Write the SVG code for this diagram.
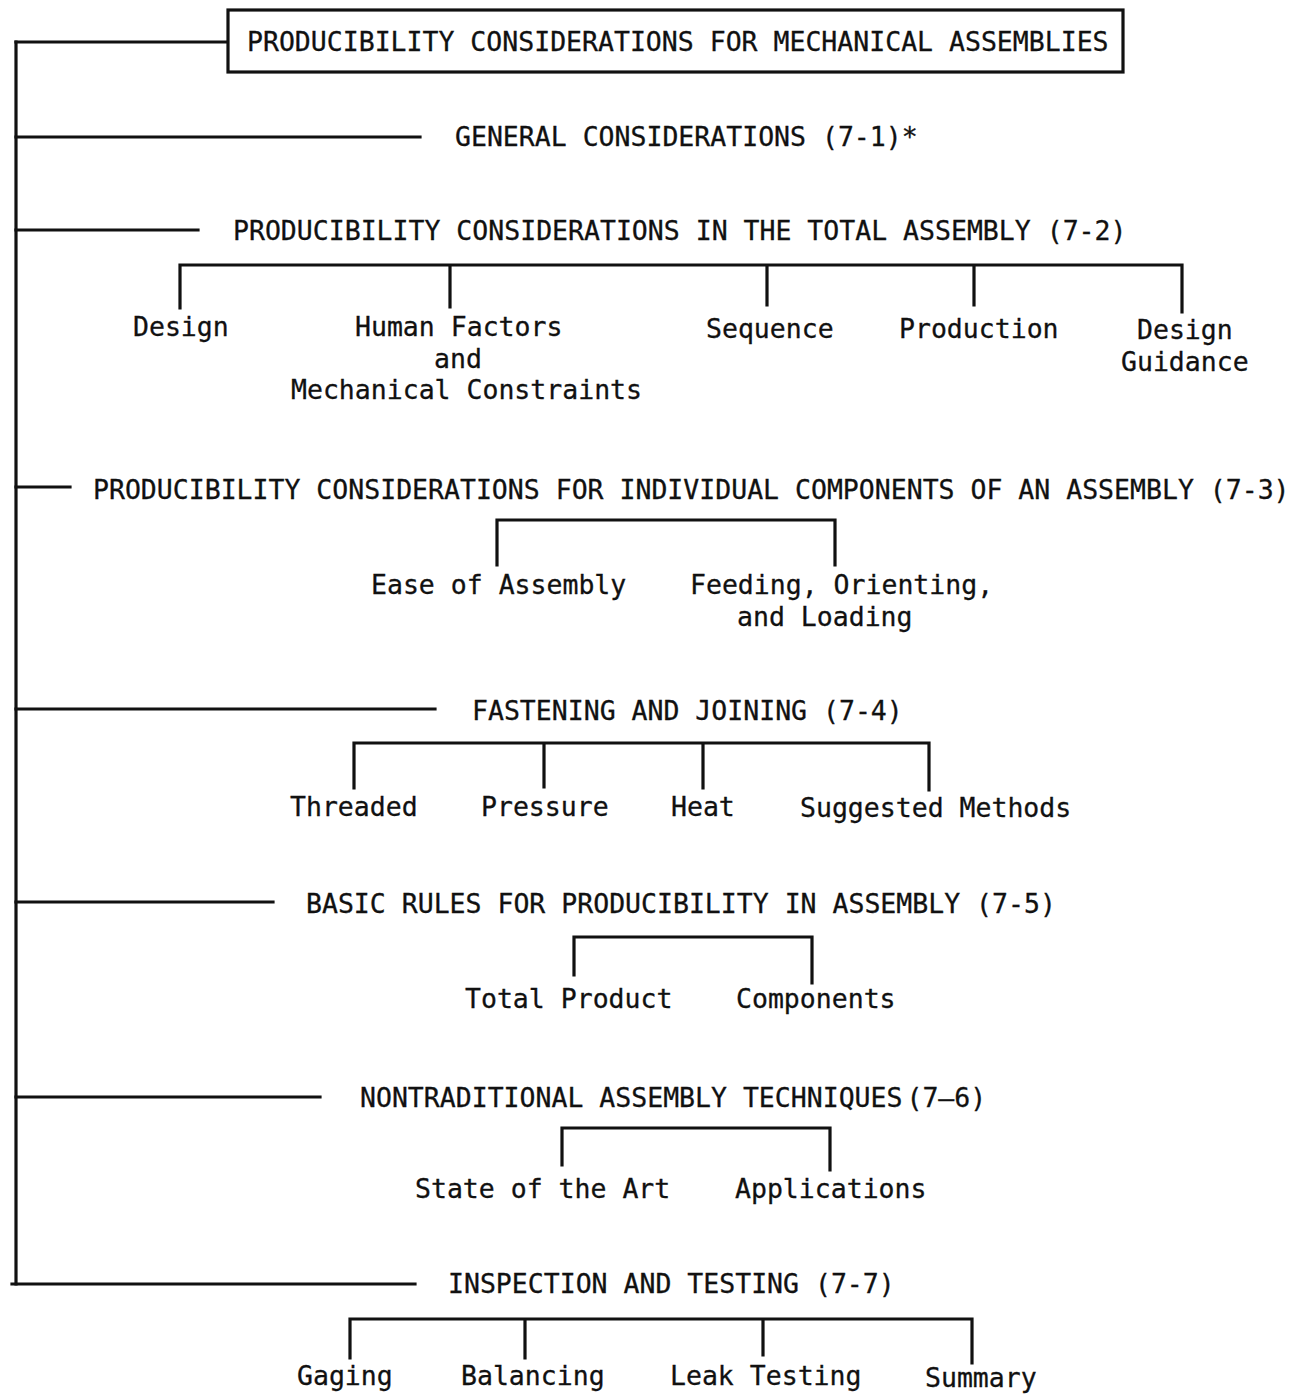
<svg xmlns="http://www.w3.org/2000/svg" width="1299" height="1396" viewBox="0 0 1299 1396">
  <style>
    text { font-family: "DejaVu Sans Mono", "Liberation Mono", monospace; font-size: 26.5px; fill: #111; stroke: #111; stroke-width: 0.3; }
    .ln { stroke: #111; stroke-width: 3.2; fill: none; stroke-linecap: square; }
    .box { stroke: #111; stroke-width: 3.2; fill: #fff; }
  </style>
  <rect width="1299" height="1396" fill="#fff"/>

  <!-- connectors: main spine, branch lines and sub-brackets -->
  <g id="connectors" class="ln">
    <path d="M16 42 V1284"/>
    <path d="M16 42 H228"/>
    <path d="M16 137 H420"/>
    <path d="M16 230 H198"/>
    <path d="M16 487 H70"/>
    <path d="M16 709 H435"/>
    <path d="M16 902 H273"/>
    <path d="M16 1097 H320"/>
    <path d="M12 1284 H415"/>
    <!-- 7-2 bracket -->
    <path d="M180 308 V265 H1182 V312 M450 265 V307 M767 265 V305 M974 265 V305"/>
    <!-- 7-3 bracket -->
    <path d="M497 565 V520 H835 V565"/>
    <!-- 7-4 bracket -->
    <path d="M354 788 V743 H929 V790 M544 743 V787 M703 743 V788"/>
    <!-- 7-5 bracket -->
    <path d="M574 975 V937 H812 V983"/>
    <!-- 7-6 bracket -->
    <path d="M562 1165 V1128 H830 V1170"/>
    <!-- 7-7 bracket -->
    <path d="M350 1358 V1319 H972 V1363 M525 1319 V1358 M763 1319 V1355"/>
  </g>

  <g id="root">
    <rect class="box" x="228" y="10" width="895" height="62"/>
    <text x="247" y="51">PRODUCIBILITY CONSIDERATIONS FOR MECHANICAL ASSEMBLIES</text>
  </g>

  <g id="general">
    <text x="455" y="146">GENERAL CONSIDERATIONS (7-1)*</text>
  </g>

  <g id="total-assembly">
    <text x="233" y="240">PRODUCIBILITY CONSIDERATIONS IN THE TOTAL ASSEMBLY (7-2)</text>
  </g>
  <g id="ta-design"><text x="133" y="336">Design</text></g>
  <g id="ta-human">
    <text x="355" y="336">Human Factors</text>
    <text x="434" y="368">and</text>
    <text x="291" y="399">Mechanical Constraints</text>
  </g>
  <g id="ta-sequence"><text x="706" y="338">Sequence</text></g>
  <g id="ta-production"><text x="899" y="338">Production</text></g>
  <g id="ta-guidance">
    <text x="1137" y="339">Design</text>
    <text x="1121" y="371">Guidance</text>
  </g>

  <g id="components">
    <text x="93" y="499">PRODUCIBILITY CONSIDERATIONS FOR INDIVIDUAL COMPONENTS OF AN ASSEMBLY (7-3)</text>
  </g>
  <g id="c-ease"><text x="371" y="594">Ease of Assembly</text></g>
  <g id="c-feeding">
    <text x="690" y="594">Feeding, Orienting,</text>
    <text x="737" y="626">and Loading</text>
  </g>

  <g id="fastening">
    <text x="472" y="720">FASTENING AND JOINING (7-4)</text>
  </g>
  <g id="f-threaded"><text x="290" y="816">Threaded</text></g>
  <g id="f-pressure"><text x="481" y="816">Pressure</text></g>
  <g id="f-heat"><text x="671" y="816">Heat</text></g>
  <g id="f-suggested"><text x="800" y="817">Suggested Methods</text></g>

  <g id="basic-rules">
    <text x="306" y="913">BASIC RULES FOR PRODUCIBILITY IN ASSEMBLY (7-5)</text>
  </g>
  <g id="b-total"><text x="465" y="1008">Total Product</text></g>
  <g id="b-components"><text x="736" y="1008">Components</text></g>

  <g id="nontraditional">
    <text x="360" y="1107">NONTRADITIONAL ASSEMBLY TECHNIQUES<tspan dx="4">(7–6)</tspan></text>
  </g>
  <g id="n-state"><text x="415" y="1198">State of the Art</text></g>
  <g id="n-applications"><text x="735" y="1198">Applications</text></g>

  <g id="inspection">
    <text x="448" y="1293">INSPECTION AND TESTING (7-7)</text>
  </g>
  <g id="i-gaging"><text x="297" y="1385">Gaging</text></g>
  <g id="i-balancing"><text x="461" y="1385">Balancing</text></g>
  <g id="i-leak"><text x="670" y="1385">Leak Testing</text></g>
  <g id="i-summary"><text x="925" y="1387">Summary</text></g>
</svg>
